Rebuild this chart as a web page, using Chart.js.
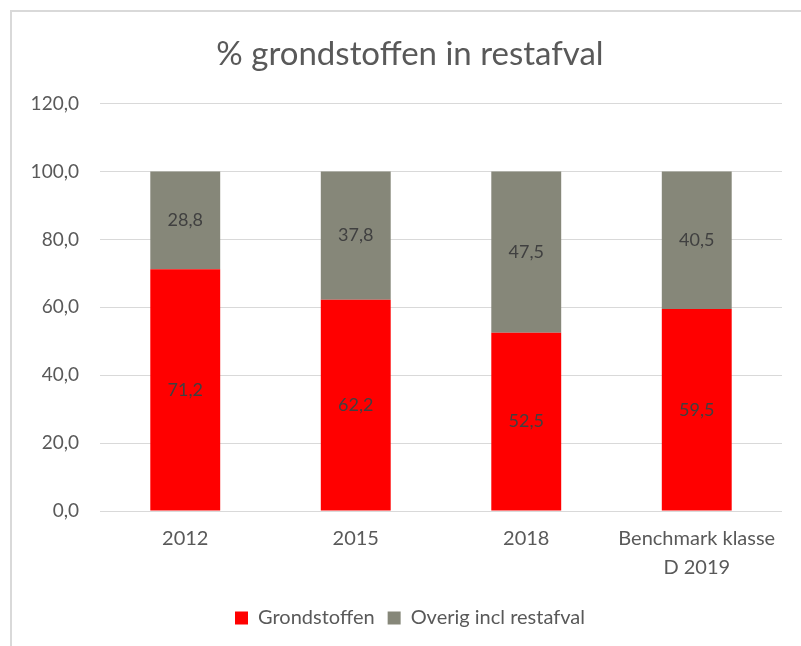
<!DOCTYPE html>
<html>
<head>
<meta charset="utf-8">
<script src="https://cdn.jsdelivr.net/npm/chart.js@4"></script>
<style>
	html, body { margin: 0; padding: 0; background: #fff; }
	#wrap { position: relative; width: 801px; height: 646px; }
	#frame {
		position: absolute; left: 10px; top: 10px; right: -5px; bottom: -5px;
		border-left: 2px solid #d9d9d9; border-top: 2px solid #d9d9d9;
		pointer-events: none;
	}
</style>
</head>
<body>
<div id="wrap">
	<canvas id="chart" width="801" height="646"></canvas>
	<div id="frame"></div>
</div>
<script>
const CATEGORIES = [
	'2012',
	'2015',
	'2018',
	['Benchmark klasse', 'D 2019']
]

const GRONDSTOFFEN = [71.2, 62.2, 52.5, 59.5]
const OVERIG = [28.8, 37.8, 47.5, 40.5]

const Y_MIN = 0
const Y_MAX = 120
const Y_STEP = 20

const FONT = 'Lato, "Noto Sans", sans-serif'

const fmt = v => Number(v).toFixed(1).replace('.', ',')

// labels centred in each bar segment
const barLabels = {
	id: 'barLabels',
	afterDatasetsDraw(chart) {
		const ctx = chart.ctx
		ctx.save()
		ctx.font = '18px ' + FONT
		ctx.fillStyle = '#404040'
		ctx.textAlign = 'center'
		ctx.textBaseline = 'middle'
		chart.data.datasets.forEach((ds, i) => {
			chart.getDatasetMeta(i).data.forEach((bar, j) => {
				const p = bar.getCenterPoint()
				ctx.fillText(fmt(ds.data[j]), p.x, p.y)
			})
		})
		ctx.restore()
	}
}

const data_chart = {
	labels: CATEGORIES,
	datasets: [
		{
			label: 'Grondstoffen',
			data: GRONDSTOFFEN,
			backgroundColor: '#FF0000',
			borderWidth: 0,
			categoryPercentage: 1,
			barPercentage: 0.41,
		},
		{
			label: 'Overig incl restafval',
			data: OVERIG,
			backgroundColor: '#868779',
			borderWidth: 0,
			categoryPercentage: 1,
			barPercentage: 0.41,
		},
	]
};

const config_chart = {
	type: 'bar',
	data: data_chart,
	options: {
		responsive: false,
		animation: false,
		layout: {
			padding: { left: 20, right: 1, top: 20, bottom: 8 }
		},
		plugins: {
			title: {
				display: true,
				text: '% grondstoffen in restafval',
				color: '#595959',
				font: { family: FONT, size: 33, weight: 'normal' },
				padding: { top: 15, bottom: 29 }
			},
			legend: {
				position: 'bottom',
				labels: {
					boxWidth: 13,
					boxHeight: 13,
					padding: 13,
					color: '#595959',
					font: { family: FONT, size: 20 }
				}
			},
			tooltip: { enabled: false }
		},
		scales: {
			x: {
				stacked: true,
				grid: { display: false, drawTicks: false },
				border: { display: false },
				ticks: {
					color: '#595959',
					font: { family: FONT, size: 20, lineHeight: 1.45 },
					maxRotation: 0,
					autoSkip: false,
					padding: 13
				}
			},
			y: {
				stacked: true,
				min: Y_MIN,
				max: Y_MAX,
				afterFit(scale) { scale.width = 80 },
				grid: { color: '#d9d9d9', drawTicks: false },
				border: { display: false },
				ticks: {
					stepSize: Y_STEP,
					color: '#595959',
					font: { family: FONT, size: 19 },
					padding: 21,
					callback: v => fmt(v)
				}
			},
			// empty right margin so title and legend sit centred on the frame
			yRight: {
				position: 'right',
				afterFit(scale) { scale.width = 18 },
				grid: { display: false, drawTicks: false },
				border: { display: false },
				ticks: { display: false }
			}
		}
	},
	plugins: [barLabels]
};

const chart = new Chart(
	document.getElementById('chart'),
	config_chart
);
</script>
</body>
</html>
